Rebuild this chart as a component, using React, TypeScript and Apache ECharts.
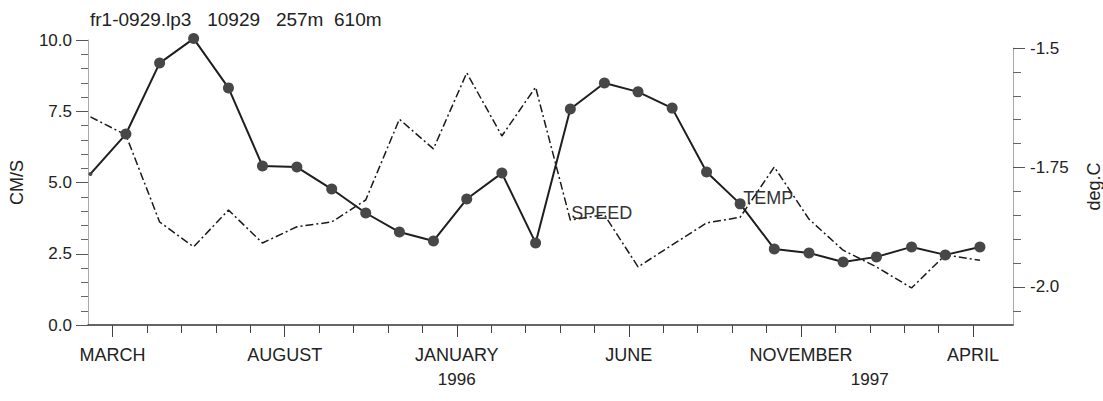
import React, { useEffect, useRef } from "react";
import * as echarts from "echarts";

// ---- data ----
const sampleDates = [
  "1995-02-11", "1995-03-13", "1995-04-12", "1995-05-12", "1995-06-12", "1995-07-12",
  "1995-08-12", "1995-09-12", "1995-10-12", "1995-11-11", "1995-12-11", "1996-01-10",
  "1996-02-10", "1996-03-10", "1996-04-10", "1996-05-10", "1996-06-09", "1996-07-09",
  "1996-08-09", "1996-09-08", "1996-10-08", "1996-11-08", "1996-12-08", "1997-01-07",
  "1997-02-07", "1997-03-07", "1997-04-07",
];
const speed = [
  5.3, 6.7, 9.19, 10.05, 8.32, 5.58, 5.54, 4.77, 3.93, 3.26, 2.95, 4.42, 5.33, 2.88,
  7.58, 8.49, 8.18, 7.61, 5.37, 4.25, 2.67, 2.53, 2.21, 2.39, 2.74, 2.46, 2.74,
];
const temp = [
  -1.644, -1.682, -1.864, -1.916, -1.839, -1.908, -1.874, -1.864, -1.818, -1.649, -1.711,
  -1.552, -1.684, -1.582, -1.86, -1.849, -1.958, -1.912, -1.866, -1.854, -1.749, -1.858,
  -1.923, -1.958, -2.002, -1.933, -1.944,
];
const titleText = "fr1-0929.lp3   10929   257m  610m";
const monthLabels = ["MARCH", "AUGUST", "JANUARY", "JUNE", "NOVEMBER", "APRIL"];
const monthLabelDates = ["1995-03-01", "1995-08-01", "1996-01-01", "1996-06-01", "1996-11-01", "1997-04-01"];
const yearLabels = ["1996", "1997"];
const yearLabelDates = ["1996-01-01", "1997-01-01"];
const firstTickDate = "1995-03-01";
const lastTickDate = "1997-04-01";
const xRangeDates = ["1995-02-09", "1997-05-06"];
const speedTickLabels = ["0.0", "2.5", "5.0", "7.5", "10.0"];
const tempTickValues = [-2.0, -1.75, -1.5];
const tempTickLabels = ["-2.0", "-1.75", "-1.5"];
const tempMinorTicks = [-2.05, -1.95, -1.9, -1.85, -1.8, -1.7, -1.65, -1.6, -1.55];
const tempRange = [-2.0795, -1.5];
const speedLabelText = "TEMP"; // label drawn beside a speed point in the reference
const speedLabelIndex = 19;
const tempLabelText = "SPEED"; // label drawn beside a temp point in the reference
const tempLabelIndex = 14;

// month index since 1995-01-01 (fractional)
function toM(d: string): number {
  const [y, mo, day] = d.split("-").map(Number);
  const dim = new Date(y, mo, 0).getDate();
  return (y - 1995) * 12 + (mo - 1) + (day - 1) / dim;
}

const FONT = "'Liberation Sans', Arial, Helvetica, sans-serif";
const TXT = "#222";

export default function App() {
  const ref = useRef<HTMLDivElement>(null);
  useEffect(() => {
    if (!ref.current) return;
    const chart = echarts.init(ref.current, undefined, { renderer: "svg" });

    const monthTicks: number[] = [];
    for (let m = toM(firstTickDate); m <= toM(lastTickDate) + 1e-9; m += 1) monthTicks.push(m);
    const labelMs = monthLabelDates.map(toM);
    const yearMs = yearLabelDates.map(toM);
    const xMin = toM(xRangeDates[0]);
    const xMax = toM(xRangeDates[1]);
    const find = (arr: number[], v: number) => arr.findIndex((a) => Math.abs(a - v) < 1e-6);

    const speedData = sampleDates.map((d, i) => {
      const item: any = { value: [toM(d), speed[i]] };
      if (i === 0) item.symbolSize = 4;
      return item;
    });
    const tempData = sampleDates.map((d, i) => [toM(d), temp[i]]);

    const option: any = {
      animation: false,
      backgroundColor: "#ffffff",
      textStyle: { fontFamily: FONT, color: TXT },
      title: {
        text: titleText,
        left: 90,
        top: 10,
        padding: 0,
        textStyle: { fontFamily: FONT, fontSize: 19, fontWeight: "normal", color: TXT },
      },
      grid: [
        { left: 88, right: 90, top: 40, bottom: 76, containLabel: false, outerBoundsMode: "none" },
        { left: 88, right: 90, top: 48, bottom: 76, containLabel: false, outerBoundsMode: "none" },
      ],
      xAxis: [
        {
          type: "value",
          gridIndex: 0,
          position: "bottom",
          min: xMin,
          max: xMax,
          axisLine: { show: true, onZero: false, lineStyle: { color: "#333", width: 1.5 } },
          axisTick: { show: true, customValues: monthTicks, length: 8, lineStyle: { color: "#444", width: 1 } },
          axisLabel: {
            show: true,
            customValues: labelMs,
            margin: 21,
            fontSize: 18,
            fontFamily: FONT,
            color: TXT,
            formatter: (v: number) => {
              const i = find(labelMs, v);
              return i >= 0 ? monthLabels[i] : "";
            },
          },
          splitLine: { show: false },
        },
        {
          type: "value",
          gridIndex: 1,
          position: "bottom",
          min: xMin,
          max: xMax,
          axisLine: { show: false, onZero: false },
          axisTick: { show: true, customValues: labelMs, length: 12, lineStyle: { color: "#444", width: 1 } },
          axisLabel: {
            show: true,
            customValues: yearMs,
            margin: 46,
            fontSize: 17,
            fontFamily: FONT,
            color: TXT,
            formatter: (v: number) => {
              const i = find(yearMs, v);
              return i >= 0 ? yearLabels[i] : "";
            },
          },
          splitLine: { show: false },
        },
      ],
      yAxis: [
        {
          type: "value",
          gridIndex: 0,
          position: "left",
          min: 0,
          max: 10,
          interval: 2.5,
          name: "CM/S",
          nameLocation: "middle",
          nameRotate: 90,
          nameGap: 62,
          nameTextStyle: { fontSize: 18, fontFamily: FONT, color: TXT },
          axisLine: { show: true, lineStyle: { color: "#aaa", width: 1 } },
          axisTick: { show: true, length: 12, lineStyle: { color: "#555" } },
          minorTick: { show: true, splitNumber: 5, length: 7, lineStyle: { color: "#666" } },
          axisLabel: {
            margin: 16,
            fontSize: 17,
            fontFamily: FONT,
            color: TXT,
            formatter: (v: number) => speedTickLabels[Math.round(v / 2.5)] ?? "",
          },
          splitLine: { show: false },
          minorSplitLine: { show: false },
        },
        {
          type: "value",
          gridIndex: 1,
          position: "right",
          min: tempRange[0],
          max: tempRange[1],
          name: "deg.C",
          nameLocation: "middle",
          nameRotate: 90,
          nameGap: 72,
          nameTextStyle: { fontSize: 18, fontFamily: FONT, color: TXT },
          axisLine: { show: true, lineStyle: { color: "#aaa", width: 1 } },
          axisTick: { show: true, customValues: tempTickValues, length: 12, lineStyle: { color: "#555" } },
          axisLabel: {
            customValues: tempTickValues,
            margin: 17,
            fontSize: 17,
            fontFamily: FONT,
            color: TXT,
            formatter: (v: number) => {
              const i = find(tempTickValues, v);
              return i >= 0 ? tempTickLabels[i] : "";
            },
          },
          splitLine: { show: false },
        },
        {
          type: "value",
          gridIndex: 1,
          position: "right",
          min: tempRange[0],
          max: tempRange[1],
          axisLine: { show: false },
          axisTick: { show: true, customValues: tempMinorTicks, length: 8, lineStyle: { color: "#666" } },
          axisLabel: { show: false },
          splitLine: { show: false },
        },
      ],
      series: [
        {
          name: "SPEED",
          type: "line",
          xAxisIndex: 0,
          yAxisIndex: 0,
          data: speedData,
          clip: false,
          symbol: "circle",
          symbolSize: 11,
          z: 4,
          lineStyle: { color: "#1e1e1e", width: 2 },
          itemStyle: { color: "#474747" },
          markPoint: {
            symbol: "circle",
            symbolSize: 0,
            silent: true,
            data: [
              {
                coord: [toM(sampleDates[speedLabelIndex]), speed[speedLabelIndex]],
                label: {
                  show: true,
                  formatter: speedLabelText,
                  position: "right",
                  distance: 3,
                  offset: [0, -6],
                  fontSize: 18,
                  fontFamily: FONT,
                  color: "#333",
                },
              },
            ],
          },
        },
        {
          name: "TEMP",
          type: "line",
          xAxisIndex: 1,
          yAxisIndex: 1,
          data: tempData,
          clip: false,
          showSymbol: false,
          z: 3,
          lineStyle: { color: "#1a1a1a", width: 1.5, type: [8, 3, 2, 3] },
          markPoint: {
            symbol: "circle",
            symbolSize: 0,
            silent: true,
            data: [
              {
                coord: [toM(sampleDates[tempLabelIndex]), temp[tempLabelIndex]],
                label: {
                  show: true,
                  formatter: tempLabelText,
                  position: "right",
                  distance: 1,
                  offset: [0, -7],
                  fontSize: 18,
                  fontFamily: FONT,
                  color: "#333",
                },
              },
            ],
          },
        },
      ],
    };
    chart.setOption(option);
    return () => chart.dispose();
  }, []);
  return (
    <div
      ref={ref}
      style={{ position: "fixed", left: 0, top: 0, width: 1103, height: 401, background: "#fff" }}
    />
  );
}
